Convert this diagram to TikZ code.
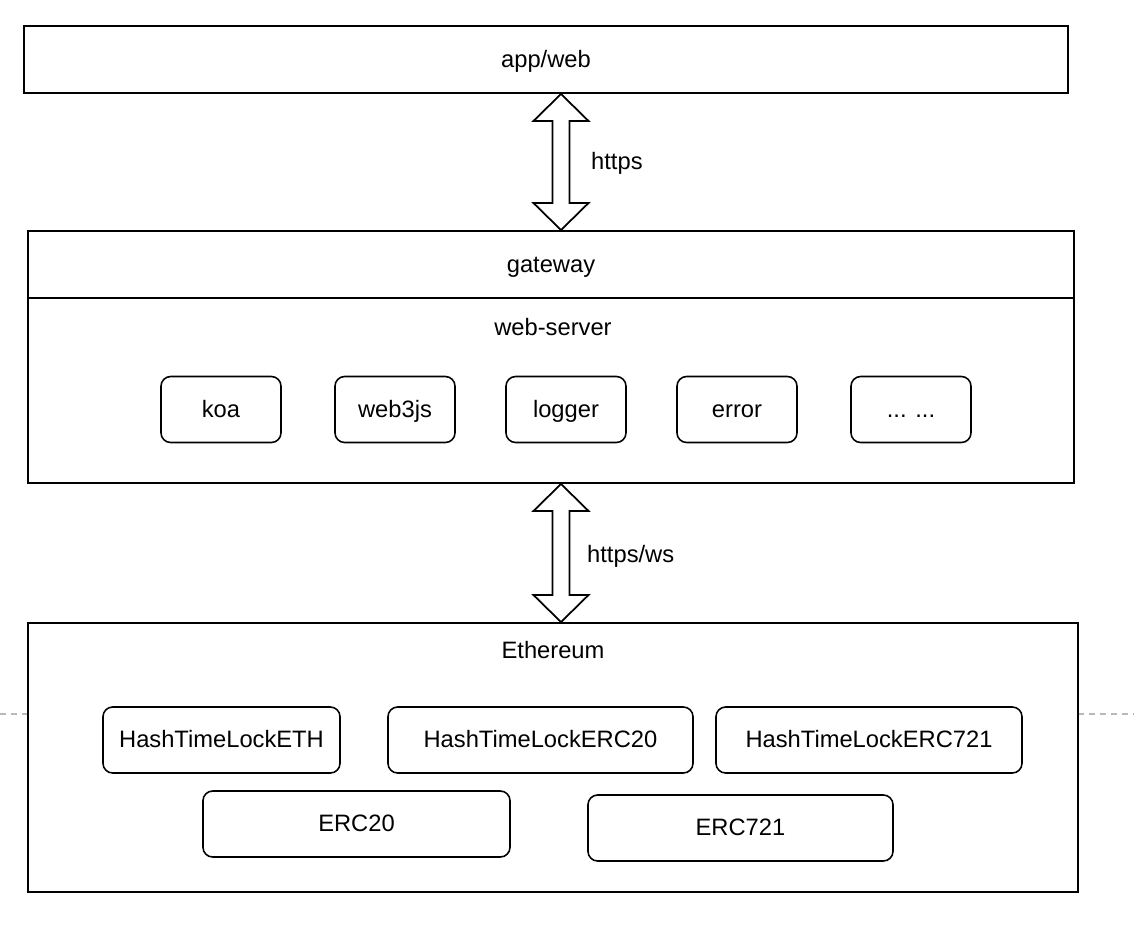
\documentclass[tikz,border=0pt]{standalone}
\usepackage{fontspec}
\setmainfont{Liberation Sans}
\usetikzlibrary{calc}
\newcommand{\px}{0.02cm}
\tikzset{
    layerbox/.style = {draw=black, line width=1.1pt, fill=white, inner sep=0pt},
    modbox/.style = {draw=black, line width=0.9pt, rounded corners=5.5pt, fill=white, inner sep=0pt, minimum height=66*\px},
    sepline/.style = {draw=gray!55, line width=1pt, dash pattern=on 3.4pt off 2.8pt},
    fatarrow/.style = {draw=black, line width=1pt, fill=white, line join=miter},
    every node/.style = {font=\fontsize{13.5}{16}\selectfont, text height=1.1em, text depth=0.21em}
}
\begin{document}
\begin{tikzpicture}[x=0.02cm, y=-0.02cm]
\path[use as bounding box] (0,0) rectangle (1134,944);
\draw[sepline] (0,714) -- (1134,714); % behind Ethereum
%
\node[layerbox, minimum width=1044*\px, minimum height=67*\px] at (546,59.5) (appweb) {app/web};
\node[layerbox, minimum width=1046*\px, minimum height=67*\px] at (551,264.5) (gateway) {gateway};
\node[layerbox, minimum width=1046*\px, minimum height=185*\px] at (551,390.5) (webserver) {};
\node at (553,328) (wslabel) {web-server};
\node[modbox, minimum width=120*\px] at (221,409.5) (koa) {koa};
\node[modbox, minimum width=120*\px] at (395,409.5) (web3js) {web3js};
\node[modbox, minimum width=120*\px] at (566,409.5) (logger) {logger};
\node[modbox, minimum width=120*\px] at (737,409.5) (error) {error};
\node[modbox, minimum width=120*\px] at (911,409.5) (more) {... ...};
%
\node[layerbox, minimum width=1050*\px, minimum height=269*\px] at (553,757.5) (ethereum) {};
\node at (553,651) (ethlabel) {Ethereum};
\node[modbox, minimum width=237*\px] at (221.5,740) (htleth) {HashTimeLockETH};
\node[modbox, minimum width=305*\px] at (540.5,740) (htlerc20) {HashTimeLockERC20};
\node[modbox, minimum width=306*\px] at (869,740) (htlerc721) {HashTimeLockERC721};
\node[modbox, minimum width=307*\px] at (356.5,824) (erc20) {ERC20};
\node[modbox, minimum width=305*\px] at (740.5,828) (erc721) {ERC721};
%
\coordinate (httpstop) at (appweb.south -| 561,0);
\coordinate (httpsbot) at (gateway.north -| 561,0);
\coordinate (wstop) at (webserver.south -| 561,0);
\coordinate (wsbot) at (ethereum.north -| 561,0);
\draw[fatarrow] (httpstop) -- ++(27.5,27) -- ++(-19,0) -- ($(httpsbot)+(8.5,-27)$) -- ++(19,0) -- (httpsbot)
    -- ++(-27.5,-27) -- ++(19,0) -- ($(httpstop)+(-8.5,27)$) -- ++(-19,0) -- cycle;
\draw[fatarrow] (wstop) -- ++(27.5,27) -- ++(-19,0) -- ($(wsbot)+(8.5,-27)$) -- ++(19,0) -- (wsbot)
    -- ++(-27.5,-27) -- ++(19,0) -- ($(wstop)+(-8.5,27)$) -- ++(-19,0) -- cycle;
\node[anchor=west] at (585,162) (httpslabel) {https};
\node[anchor=west] at (581,555) (wslinklabel) {https/ws};
\end{tikzpicture}
\end{document}
